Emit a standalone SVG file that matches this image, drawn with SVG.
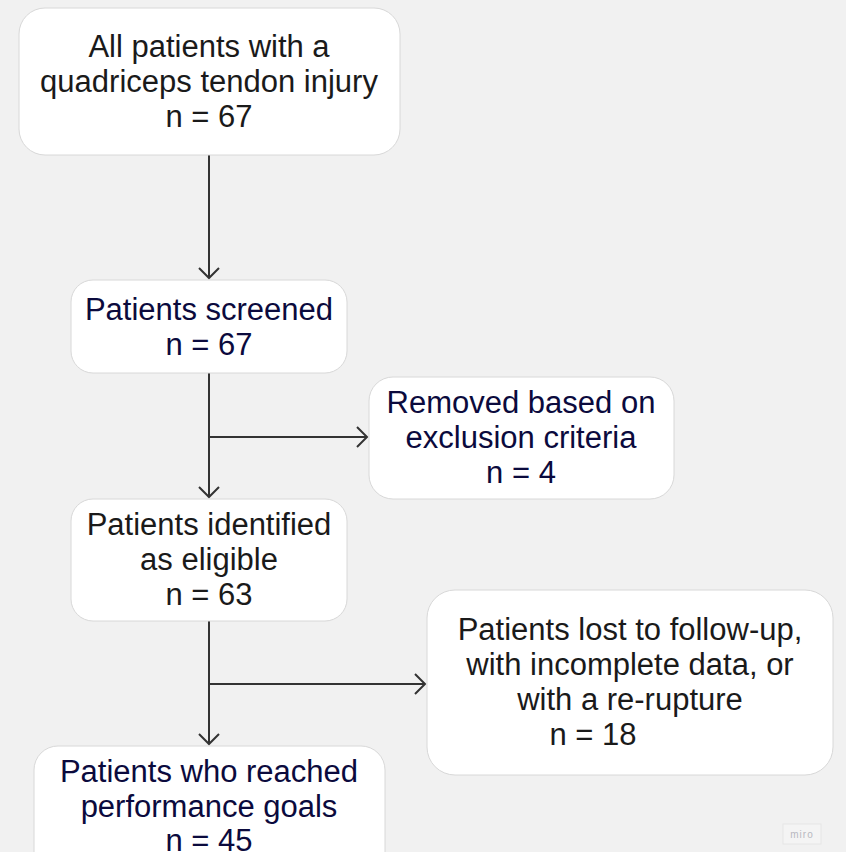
<svg xmlns="http://www.w3.org/2000/svg" width="846" height="852" viewBox="0 0 846 852">
<defs>
<marker id="arr" markerWidth="24" markerHeight="24" refX="11" refY="12" orient="auto" markerUnits="userSpaceOnUse">
<path d="M1,2 L11,12 L1,22" fill="none" stroke="#333333" stroke-width="2"/>
</marker>
<style>
.box{fill:#ffffff;stroke:#d8d8d8;stroke-width:1}
.t{font-family:"Liberation Sans",Arial,sans-serif;font-size:31px;text-anchor:middle}
.dark{fill:#1a1a1a}
.navy{fill:#0b0a3d}
.c{fill:none;stroke:#333333;stroke-width:2}
</style>
</defs>
<rect width="846" height="852" fill="#f1f1f1"/>
<g id="connectors">
<line class="c" x1="209" y1="155" x2="209" y2="278" marker-end="url(#arr)"/>
<line class="c" x1="209" y1="373" x2="209" y2="497" marker-end="url(#arr)"/>
<line class="c" x1="209" y1="437" x2="367" y2="437" marker-end="url(#arr)"/>
<line class="c" x1="209" y1="621" x2="209" y2="744" marker-end="url(#arr)"/>
<line class="c" x1="209" y1="684" x2="425" y2="684" marker-end="url(#arr)"/>
</g>
<g id="n1">
<rect class="box" x="19" y="8" width="381" height="147" rx="26"/>
<text class="t dark" x="209" y="57">All patients with a</text>
<text class="t dark" x="209" y="92">quadriceps tendon injury</text>
<text class="t dark" x="209" y="127">n = 67</text>
</g>
<g id="n2">
<rect class="box" x="71" y="280" width="276" height="93" rx="22"/>
<text class="t navy" x="209" y="320">Patients screened</text>
<text class="t navy" x="209" y="355">n = 67</text>
</g>
<g id="n3">
<rect class="box" x="369" y="377" width="305" height="122" rx="24"/>
<text class="t navy" x="521" y="413">Removed based on</text>
<text class="t navy" x="521" y="448">exclusion criteria</text>
<text class="t navy" x="521" y="483">n = 4</text>
</g>
<g id="n4">
<rect class="box" x="71" y="499" width="276" height="122" rx="22"/>
<text class="t dark" x="209" y="535">Patients identified</text>
<text class="t dark" x="209" y="570">as eligible</text>
<text class="t dark" x="209" y="605">n = 63</text>
</g>
<g id="n5">
<rect class="box" x="427" y="590" width="406" height="185" rx="28"/>
<text class="t dark" x="630" y="640">Patients lost to follow-up,</text>
<text class="t dark" x="630" y="675">with incomplete data, or</text>
<text class="t dark" x="630" y="710">with a re-rupture</text>
<text class="t dark" x="593" y="745">n = 18</text>
</g>
<g id="n6">
<rect class="box" x="34" y="746" width="351" height="130" rx="24"/>
<text class="t navy" x="209" y="782">Patients who reached</text>
<text class="t navy" x="209" y="817">performance goals</text>
<text class="t navy" x="209" y="851">n = 45</text>
</g>
<g id="watermark">
<rect x="783" y="824" width="38" height="20" fill="#f4f4f4" stroke="#e6e6e6" stroke-width="1"/>
<text x="802" y="838" font-family="'Liberation Sans',Arial,sans-serif" font-size="10" fill="#b8b8c0" text-anchor="middle" letter-spacing="1">miro</text>
</g>
</svg>
